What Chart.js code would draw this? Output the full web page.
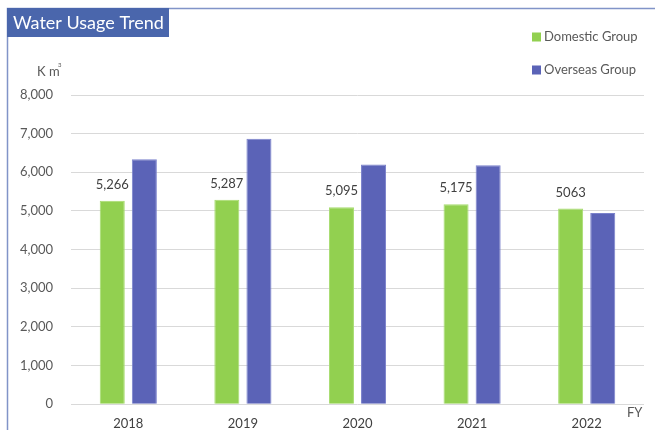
<!DOCTYPE html>
<html>
<head>
<meta charset="utf-8">
<script src="https://cdn.jsdelivr.net/npm/chart.js@4/dist/chart.umd.min.js"></script>
<style>
  html, body { margin: 0; padding: 0; background: #fff; }
  #wrap { position: relative; width: 655px; height: 430px; }
</style>
</head>
<body>
<div id="wrap"><canvas id="water-chart" width="655" height="430"></canvas></div>
<script>
const years = ['2018', '2019', '2020', '2021', '2022'];
const domestic = [5266, 5287, 5095, 5175, 5063];
const overseas = [6340, 6870, 6200, 6180, 4950];
const domesticLabels = ['5,266', '5,287', '5,095', '5,175', '5063'];
const yTicks = [0, 1000, 2000, 3000, 4000, 5000, 6000, 7000, 8000];

const FONT = 'Lato, "Open Sans", sans-serif';
const TEXT = '#595959';

// frame, title box, legend, unit labels
const decorations = {
    id: 'decorations',
    beforeDraw(chart) {
        const ctx = chart.ctx;
        ctx.save();
        ctx.fillStyle = '#fff';
        ctx.fillRect(0, 0, chart.width, chart.height);
        ctx.strokeStyle = '#8194c8';
        ctx.lineWidth = 1.5;
        ctx.beginPath();
        ctx.moveTo(7.5, 430);
        ctx.lineTo(7.5, 8.5);
        ctx.lineTo(655, 8.5);
        ctx.stroke();
        ctx.restore();
    },
    afterDraw(chart) {
        const ctx = chart.ctx;
        ctx.save();
        // title
        ctx.fillStyle = '#4a66ac';
        ctx.fillRect(7, 8, 162, 29);
        ctx.fillStyle = '#fff';
        ctx.font = '18px ' + FONT;
        ctx.textBaseline = 'middle';
        ctx.textAlign = 'left';
        ctx.fillText('Water Usage Trend', 13, 23);

        // legend
        const items = [
            { text: 'Domestic Group', color: '#92d050', y: 37 },
            { text: 'Overseas Group', color: '#5b63b7', y: 70 }
        ];
        ctx.font = '13px ' + FONT;
        items.forEach(it => {
            ctx.fillStyle = it.color;
            ctx.fillRect(532, it.y - 4.5, 9, 9);
            ctx.fillStyle = TEXT;
            ctx.fillText(it.text, 544, it.y);
        });

        // unit labels
        ctx.font = '13px ' + FONT;
        ctx.fillStyle = TEXT;
        ctx.fillText('K m', 37, 72);
        ctx.font = '6px ' + FONT;
        ctx.fillText('3', 58, 65);
        ctx.font = '13px ' + FONT;
        ctx.fillText('FY', 627, 413);

        // data labels for domestic series
        const meta = chart.getDatasetMeta(0);
        ctx.font = '13px ' + FONT;
        ctx.textAlign = 'center';
        ctx.fillStyle = '#404040';
        meta.data.forEach((bar, i) => {
            ctx.fillText(domesticLabels[i], bar.x, bar.y - 16);
        });
        ctx.restore();
    }
};

const ctx = document.getElementById('water-chart').getContext('2d');

new Chart(ctx, {
    type: 'bar',
    data: {
        labels: years,
        datasets: [{
            label: 'Domestic Group',
            data: domestic,
            backgroundColor: '#92d050',
            borderColor: '#a6dc6e',
            borderWidth: 1
        }, {
            label: 'Overseas Group',
            data: overseas,
            backgroundColor: '#5b63b7',
            borderColor: '#7b82cc',
            borderWidth: 1
        }]
    },
    options: {
        responsive: false,
        animation: false,
        layout: { padding: { top: 95, right: 11, left: 0, bottom: 0 } },
        datasets: { bar: { categoryPercentage: 0.56, barPercentage: 0.78 } },
        plugins: {
            legend: { display: false },
            tooltip: { enabled: false }
        },
        scales: {
            x: {
                grid: { display: false, drawTicks: false },
                border: { display: false },
                ticks: { color: '#404040', font: { family: FONT, size: 13 }, padding: 12 },
                afterFit(axis) { axis.height = 25; }
            },
            y: {
                min: 0,
                max: 8000,
                afterBuildTicks(axis) { axis.ticks = yTicks.map(v => ({ value: v })); },
                grid: { color: '#d9d9d9', lineWidth: 1, drawTicks: false },
                border: { display: false },
                ticks: {
                    color: TEXT,
                    font: { family: FONT, size: 13 },
                    padding: 18,
                    callback: v => v.toLocaleString('en-US')
                },
                afterFit(axis) { axis.width = 71; }
            }
        }
    },
    plugins: [decorations]
});
</script>
</body>
</html>
